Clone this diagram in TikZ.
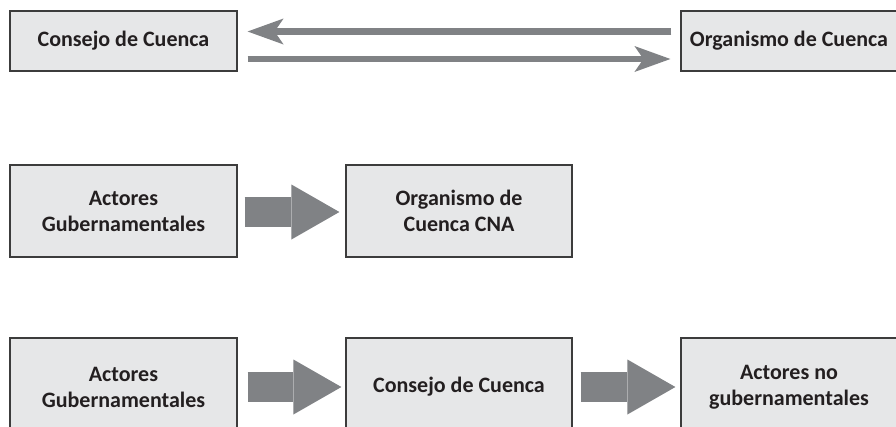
\documentclass[tikz,border=0pt]{standalone}
\usepackage{fontspec}
\setmainfont{Carlito}
\usetikzlibrary{arrows.meta}
\definecolor{boxfill}{HTML}{E6E7E8}
\definecolor{boxline}{HTML}{3C3C3C}
\definecolor{arrowc}{HTML}{808285}
\definecolor{txt}{HTML}{231F20}
\tikzset{
  box/.style={draw=boxline, fill=boxfill, line width=1.2pt, align=center, inner sep=0pt,
    font=\bfseries\fontsize{22}{26}\selectfont, text=txt},
  thinarrow/.style={draw=arrowc, line width=6.8pt, -{Stealth[length=36pt,width=26pt,inset=9pt,line width=0pt]}},
  blockarrow/.style={draw=arrowc, line width=30pt, -{Triangle[length=48pt,width=55pt,line width=0pt]}}
}
\begin{document}
\begin{tikzpicture}[x=1pt,y=-1pt]
\clip (0,0) rectangle (896,426);
\fill[white] (0,0) rectangle (896,426);
% row 1
\node[box, minimum width=227pt, minimum height=60pt] (c1) at (123.5,41) {Consejo de Cuenca};
\node[box, minimum width=216pt, minimum height=60pt] (o1) at (789,41) {Organismo de Cuenca};
\draw[thinarrow] ([xshift=-9pt,yshift=9.5pt]o1.west) -- ([xshift=10pt,yshift=9.5pt]c1.east);
\draw[thinarrow] ([xshift=10pt,yshift=-18pt]c1.east) -- ([xshift=-10pt,yshift=-18pt]o1.west);
% row 2
\node[box, minimum width=227pt, minimum height=92pt] (a2) at (123.5,211) {Actores\\Gubernamentales};
\node[box, minimum width=226pt, minimum height=92pt] (o2) at (459,211) {Organismo de\\Cuenca CNA};
\draw[blockarrow] ([xshift=7pt,yshift=-1pt]a2.east) -- ([xshift=-6pt,yshift=-1pt]o2.west);
% row 3
\node[box, minimum width=227pt, minimum height=98pt] (a3) at (123.5,387) {Actores\\Gubernamentales};
\node[box, minimum width=226pt, minimum height=98pt] (c3) at (459,387) {Consejo de Cuenca};
\node[box, minimum width=216pt, minimum height=98pt] (n3) at (789,387) {Actores no\\gubernamentales};
\draw[blockarrow] ([xshift=10pt]a3.east) -- ([xshift=-4pt]c3.west);
\draw[blockarrow] ([xshift=8pt]c3.east) -- ([xshift=-5pt]n3.west);
\end{tikzpicture}
\end{document}
